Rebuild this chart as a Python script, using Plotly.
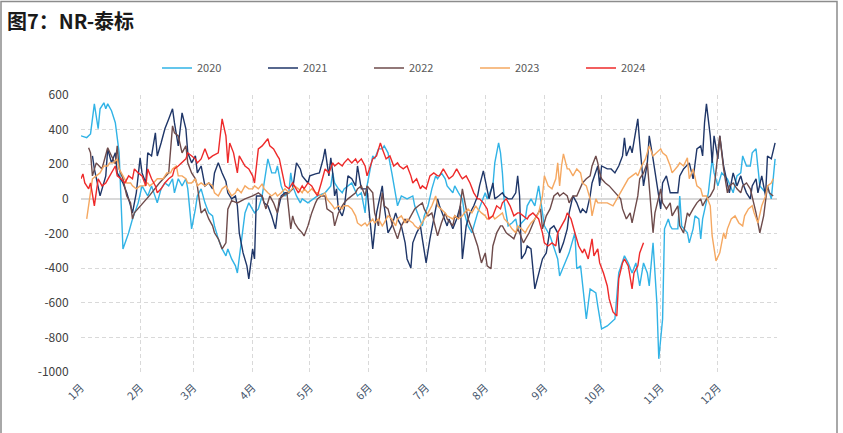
import pandas as pd
import plotly.graph_objects as go

# ---------------- data (day-of-year offset from Jan 1, value) ----------------
month_ticks = ["1月", "2月", "3月", "4月", "5月", "6月", "7月", "8月", "9月", "10月", "11月", "12月"]
month_starts = ["2023-01-01", "2023-02-01", "2023-03-01", "2023-04-01", "2023-05-01", "2023-06-01",
                "2023-07-01", "2023-08-01", "2023-09-01", "2023-10-01", "2023-11-01", "2023-12-01"]
y_ticks = [600, 400, 200, 0, -200, -400, -600, -800, -1000]

day_2020 = [0, 3, 5, 7, 9, 10, 12, 13, 14, 16, 18, 19, 20, 22, 25, 27, 30, 32, 35, 37, 39, 40, 42, 44, 46, 48, 49, 51, 53, 55,
            56, 58, 60, 61, 63, 65, 67, 69, 70, 72, 74, 76, 77, 79, 81, 82, 84, 86, 88, 91, 93, 95, 98, 100, 102, 103, 105, 107, 109, 110,
            111, 113, 115, 116, 119, 122, 124, 128, 131, 132, 133, 135, 137, 138, 142, 145, 147, 149, 150, 153, 154, 156, 158, 159, 161, 163, 165, 166, 168, 171,
            174, 175, 177, 179, 180, 182, 184, 186, 187, 189, 191, 192, 195, 196, 198, 200, 201, 203, 205, 207, 208, 210, 212, 213, 216, 217, 219, 220, 221, 222,
            224, 226, 228, 229, 231, 233, 234, 236, 238, 240, 243, 246, 249, 250, 251, 253, 255, 256, 259, 260, 262, 263, 265, 267, 270, 271, 273, 276, 280, 282,
            284, 285, 287, 289, 291, 292, 293, 295, 297, 298, 300, 302, 303, 305, 306, 308, 309, 310, 313, 314, 315, 318, 319, 321, 322, 324, 325, 326, 328, 329,
            331, 332, 334, 336, 339, 340, 342, 344, 346, 347, 349, 351, 352, 354, 356, 359, 360, 362, 364]
val_2020 = [364, 354, 375, 549, 405, 520, 555, 520, 549, 509, 440, 364, 266, -289, -196, -116, -23, 75, 17, 75, 0, -23, 58, 92, 75, 116, 35, 116, 75, 116,
            58, -173, -58, 17, 58, -23, -81, -98, -156, -231, -289, -329, -289, -347, -387, -428, -254, -81, -23, -81, -58, 17, 231, 150, 150, 190, 75, 17, 35, 150,
            75, 17, -23, 0, -23, 0, 17, 35, 75, 150, 92, 58, 35, 58, 92, 17, 35, -81, 75, 248, 231, 289, 289, 306, 266, 150, 35, -40, 17, 0,
            17, -40, -98, -156, -98, -40, 58, 133, 116, 150, 116, 75, 35, 75, 35, 0, -81, -156, -196, -116, -81, -23, 35, 0, 75, 208, 323, 266, 150, -23,
            -156, -139, -116, -173, -139, -116, -40, 0, -40, 75, -156, -214, -312, -347, -445, -387, -329, -312, -196, -404, -387, -503, -694, -520, -543, -618, -751, -734, -694, -428,
            -370, -329, -370, -428, -370, -428, -503, -370, -428, -503, -254, -601, -924, -694, -173, -116, -156, -173, -173, 17, -156, -196, -254, -173, -98, -116, -231, -116, 0, 35,
            231, 150, 75, 150, 116, 92, 35, 133, 150, 248, 190, 190, 266, 289, 75, 35, 75, 0, 231]

day_2021 = [6, 7, 10, 13, 14, 16, 18, 19, 22, 24, 26, 27, 29, 31, 32, 34, 35, 37, 39, 40, 42, 44, 46, 48, 49, 50, 51, 53, 55, 56,
            58, 60, 61, 63, 65, 67, 69, 70, 72, 74, 76, 77, 79, 81, 82, 83, 85, 87, 88, 90, 91, 92, 93, 95, 96, 98, 100, 102, 103, 105,
            107, 109, 111, 112, 113, 115, 116, 119, 120, 123, 125, 127, 128, 129, 130, 131, 132, 133, 134, 135, 137, 138, 140, 142, 144, 145, 147, 150, 152, 153,
            155, 157, 158, 159, 161, 163, 165, 166, 168, 170, 171, 173, 174, 176, 178, 179, 181, 183, 185, 187, 188, 190, 192, 193, 195, 197, 199, 200, 202, 204,
            206, 208, 209, 211, 213, 214, 216, 217, 219, 221, 222, 224, 226, 228, 229, 230, 231, 233, 234, 236, 238, 240, 242, 244, 246, 248, 250, 251, 253, 255,
            256, 258, 260, 262, 263, 265, 267, 268, 271, 272, 273, 276, 278, 280, 282, 284, 285, 286, 288, 289, 292, 293, 295, 297, 298, 300, 302, 304, 305, 307,
            309, 313, 314, 316, 319, 321, 323, 325, 326, 327, 328, 330, 331, 332, 334, 335, 337, 339, 340, 342, 344, 346, 347, 349, 351, 352, 354, 355, 357, 359,
            360, 362, 364]
val_2021 = [248, 173, 17, 133, 289, 208, 266, 150, 92, 35, -40, -81, 35, 237, 150, 92, 266, 248, 381, 248, 323, 405, 462, 520, 440, 364, 306, 497, 405, 266,
            208, 248, 150, 190, 75, 92, 58, 150, 208, 150, 100, 35, 0, 17, -40, -196, -312, -387, -462, -289, -347, 17, 17, 17, -23, -40, -98, -173, -81, 17,
            35, 35, 58, 133, 208, 173, 133, 92, 133, 144, 150, 231, 289, 208, 133, 237, 150, 17, 58, -58, -98, -58, 133, 116, 75, 190, 58, 58, -156, -289,
            -81, 17, 75, -40, -196, -156, -81, -116, -156, -254, -347, -399, -254, -196, -156, -231, -370, -231, -116, 0, -40, -98, -156, -116, -173, -116, -40, -347, -156, -81,
            -40, 17, 75, 162, 58, 0, 92, 0, 17, 35, 17, 0, 0, 35, 133, 17, -347, -312, -272, -289, -520, -428, -347, -312, -173, -156, -196, -312, -254, -173,
            -81, 17, -23, -81, -58, -81, 17, 92, 190, 75, 190, 173, 173, 150, 190, 248, 352, 248, 306, 266, 462, 323, 75, 208, 364, 231, 75, -58, 92, 133,
            35, 35, 133, 173, 208, 116, 289, 306, 248, 440, 549, 364, 208, 364, 231, 364, 190, 75, 35, 150, 75, 133, 92, 35, 0, 75, 116, 35, 133, 17,
            248, 231, 323]

day_2022 = [4, 5, 6, 8, 11, 13, 14, 16, 18, 19, 20, 22, 24, 26, 27, 28, 36, 41, 46, 48, 49, 51, 53, 55, 56, 58, 60, 61, 63, 65,
            67, 69, 70, 72, 74, 76, 77, 79, 82, 86, 90, 93, 95, 96, 97, 99, 101, 103, 104, 106, 108, 110, 111, 112, 114, 116, 117, 119, 121, 123,
            124, 126, 128, 129, 132, 133, 135, 137, 138, 140, 142, 144, 145, 147, 149, 150, 153, 154, 156, 158, 159, 161, 163, 165, 166, 168, 170, 171, 174, 175,
            177, 179, 180, 182, 184, 186, 187, 189, 191, 192, 195, 196, 198, 200, 201, 203, 205, 207, 208, 210, 212, 213, 215, 216, 218, 220, 221, 223, 225, 227,
            229, 230, 232, 234, 235, 238, 241, 242, 244, 246, 248, 250, 251, 253, 255, 256, 258, 260, 262, 263, 265, 267, 268, 270, 271, 272, 273, 275, 277, 280,
            283, 284, 286, 288, 289, 292, 293, 295, 297, 300, 301, 304, 305, 307, 309, 310, 313, 314, 316, 318, 319, 321, 323, 325, 326, 328, 330, 332, 334, 335,
            337, 339, 340, 342, 344, 346, 347, 349, 351, 352, 354, 356, 358, 360, 361, 363]
val_2022 = [295, 266, 133, 208, 173, 266, 295, 248, 202, 306, 173, 116, 17, -23, -116, -81, 20, 90, 150, 422, 381, 364, 266, 306, 208, 150, 116, 75, -81, -58,
            -116, -156, -196, -231, -289, -254, -60, -10, -23, 0, 17, 35, 17, -23, -58, 17, -23, -81, 0, 17, 35, -173, -98, -139, -173, -196, -214, -156, -81, -23,
            0, 17, 17, -58, -81, -156, -81, -40, -23, 0, 17, 35, 58, 75, 17, 75, 35, -81, -156, 35, -40, -58, -139, -196, -231, -156, -116, -139, -81, -58,
            -40, -23, -58, -98, -81, -173, -214, -139, -81, -116, -156, -98, -116, 58, 0, -116, -173, -231, -272, -370, -312, -387, -404, -272, -196, -156, -156, -196, -214, -231,
            -173, -196, -254, -214, -196, -116, -58, -173, -98, -58, 17, 35, 17, 35, 17, -23, 17, 17, 75, 92, 116, 133, 190, 248, 208, 150, 116, 92, 75, 35,
            0, -58, -116, -81, -139, 17, 116, 150, 208, -196, -81, 58, -23, -58, -23, -98, -40, -156, -196, -81, -98, -58, -23, 0, -40, 0, 17, 58, 289, 364,
            173, 35, 75, 92, 58, 35, 75, 92, 58, 17, -81, -196, -98, 75, 35, 17]

day_2023 = [3, 4, 5, 6, 8, 10, 12, 14, 15, 17, 19, 20, 22, 24, 26, 27, 29, 31, 33, 35, 36, 38, 40, 41, 43, 45, 47, 48, 50, 51,
            53, 55, 56, 58, 60, 61, 63, 65, 67, 69, 70, 72, 74, 76, 77, 79, 81, 82, 84, 86, 88, 90, 91, 93, 95, 96, 98, 100, 102, 103,
            105, 107, 109, 111, 112, 114, 116, 117, 119, 121, 123, 124, 126, 128, 129, 132, 133, 135, 137, 138, 140, 142, 144, 145, 147, 149, 150, 153, 154, 156,
            158, 159, 161, 163, 165, 166, 168, 170, 171, 174, 175, 177, 179, 180, 182, 184, 186, 187, 189, 191, 192, 195, 196, 198, 200, 201, 203, 205, 207, 208,
            210, 212, 213, 216, 217, 219, 221, 222, 224, 226, 228, 229, 231, 233, 234, 236, 238, 240, 242, 243, 245, 247, 249, 250, 251, 252, 253, 255, 256, 258,
            260, 262, 263, 265, 267, 268, 270, 271, 274, 276, 279, 282, 284, 285, 287, 289, 291, 292, 294, 296, 297, 298, 300, 302, 304, 305, 307, 309, 310, 313,
            314, 316, 318, 319, 321, 323, 325, 326, 328, 330, 331, 333, 335, 337, 338, 339, 341, 343, 345, 347, 348, 350, 352, 353, 355, 357, 359, 360, 362, 363]
val_2023 = [-116, -40, 17, 116, 133, 150, 190, 190, 208, 208, 231, 173, 133, 92, 92, 75, 58, 75, 75, 92, 75, 92, 116, 116, 116, 150, 150, 173, 190, 133,
            133, 116, 92, 92, 116, 75, 92, 75, 92, 75, 35, 17, 58, 75, 58, 17, 35, 58, 35, 75, 58, 58, 75, 58, 87, 58, 35, 17, 35, 17,
            35, 58, 35, 58, 75, 58, 35, 58, 35, 58, 35, 35, 17, 35, 0, -40, -58, -40, -58, -40, -40, -58, -98, -139, -156, -139, -156, -116, -139, -116,
            -156, -139, -98, -116, -156, -116, -98, -139, -116, -139, -156, -173, -139, -116, -81, -40, 17, -40, -58, -81, -98, -116, -98, -116, -98, -81, -58, -81, -40, -58,
            -81, -98, -116, -98, -116, -98, -81, -116, -139, -173, -196, -156, -173, -196, -173, -139, -116, -81, 17, 133, 75, 58, 116, 208, 75, 190, 260, 173, 173, 133,
            173, 150, 92, 75, 0, -98, 0, -23, -23, -23, -40, 17, 58, 75, 116, 133, 150, 133, 190, 231, 266, 306, 248, 266, 289, 266, 248, 190, 150, 190,
            208, 190, 237, 116, 173, 75, 58, 17, 17, -40, -214, -358, -312, -196, -231, -173, -116, -98, -139, -156, -98, -58, -40, -81, -139, -40, 17, 75, 92, 116]

day_2024 = [0, 1, 2, 4, 5, 7, 9, 11, 13, 16, 18, 19, 21, 23, 25, 27, 28, 30, 32, 34, 35, 37, 39, 40, 42, 44, 46, 48, 49, 51,
            53, 55, 56, 58, 60, 61, 63, 65, 67, 69, 72, 74, 76, 77, 78, 80, 82, 83, 84, 86, 88, 90, 91, 93, 95, 98, 99, 101, 103, 104,
            107, 109, 111, 114, 116, 117, 119, 121, 123, 124, 126, 128, 130, 132, 133, 135, 137, 138, 140, 142, 144, 145, 147, 149, 150, 153, 155, 157, 158, 160,
            162, 164, 166, 167, 169, 171, 173, 174, 176, 178, 179, 181, 183, 185, 187, 188, 190, 192, 193, 195, 197, 199, 200, 202, 204, 206, 208, 209, 211, 213,
            214, 216, 218, 220, 221, 223, 225, 227, 229, 230, 232, 234, 235, 237, 240, 242, 243, 245, 247, 249, 250, 252, 254, 255, 257, 259, 261, 263, 264, 266,
            268, 269, 271, 272, 274, 276, 277, 279, 281, 282, 284, 285, 287, 289, 290, 292, 293, 295]
val_2024 = [116, 144, 92, 58, 92, -40, 116, 75, 92, 150, 190, 133, 116, 92, 133, 116, 173, 150, 133, 75, 173, 116, 75, 35, 58, 92, 116, 133, 173, 190,
            208, 231, 266, 248, 231, 208, 231, 289, 231, 248, 266, 462, 364, 208, 323, 266, 150, 248, 231, 190, 173, 133, 92, 289, 306, 347, 306, 289, 248, 231,
            75, 58, 92, 35, 75, 58, 92, 75, 35, 17, 92, 173, 150, 208, 190, 208, 190, 208, 231, 208, 231, 208, 231, 190, 133, 231, 248, 323, 289, 231,
            248, 190, 208, 190, 173, 190, 133, 92, 116, 58, 75, 58, 133, 150, 133, 133, 173, 133, 116, 133, 173, 133, 116, 133, 92, 35, 0, 0, -23, -58,
            -116, -98, -40, -58, -23, 0, -40, -98, -81, -81, -98, -116, -98, -81, -116, -196, -254, -272, -254, -272, -196, -156, -116, -81, -116, -196, -272, -312, -289, -347,
            -231, -329, -289, -370, -428, -503, -578, -653, -676, -462, -370, -347, -387, -520, -428, -387, -312, -254]

series = [
    ("2020", day_2020, val_2020, "#31B3E6"),
    ("2021", day_2021, val_2021, "#1F3668"),
    ("2022", day_2022, val_2022, "#6E4B4B"),
    ("2023", day_2023, val_2023, "#F5A861"),
    ("2024", day_2024, val_2024, "#EE2A2A"),
]

base = pd.Timestamp("2023-01-01")
W, H = 843, 433
L, R, T, B = 81, 66, 95, 61
PW, PH = W - L - R, H - T - B


def px_x(p):
    return (p - L) / PW


def px_y(p):
    return (H - B - p) / PH


fig = go.Figure()
for name, days, vals, color in series:
    assert len(days) == len(vals), name
    xs = base + pd.to_timedelta(days, unit="D")
    fig.add_trace(go.Scatter(x=xs, y=vals, mode="lines", name=name,
                             line=dict(color=color, width=1.4)))

fig.update_layout(
    width=W, height=H,
    margin=dict(l=L, r=R, t=T, b=B),
    paper_bgcolor="white", plot_bgcolor="white",
    font=dict(family="Noto Sans CJK SC, Noto Sans, sans-serif", color="#404040"),
    showlegend=True,
    legend=dict(orientation="h", x=px_x(157), y=px_y(68), xanchor="left", yanchor="middle",
                font=dict(size=11, color="#595959"), entrywidth=61, entrywidthmode="pixels",
                itemwidth=30, bgcolor="rgba(0,0,0,0)", traceorder="normal"),
    xaxis=dict(type="date", range=["2023-01-01", "2024-01-01"],
               tickmode="array", tickvals=month_starts, ticktext=month_ticks,
               tickangle=-45, tickfont=dict(size=11, color="#44546A"),
               showgrid=True, gridcolor="#D9D9D9", griddash="4px,3px", gridwidth=1,
               zeroline=False, showline=False, ticks="outside", ticklen=4,
               tickcolor="rgba(0,0,0,0)"),
    yaxis=dict(range=[-1000, 600], tickmode="array", tickvals=y_ticks,
               ticktext=[str(v) for v in y_ticks],
               tickfont=dict(size=12, color="#404040"),
               showgrid=True, gridcolor="#D9D9D9", griddash="4px,3px", gridwidth=1,
               zeroline=True, zerolinecolor="#D9D9D9", zerolinewidth=1.5,
               showline=False, ticks="outside", ticklen=9, tickcolor="rgba(0,0,0,0)"),
)

fig.add_annotation(text="<b>图7：NR-泰标</b>", xref="paper", yref="paper",
                   x=px_x(5), y=px_y(4), xanchor="left", yanchor="top", showarrow=False,
                   font=dict(size=20, color="#1A1A1A", family="Noto Sans CJK SC"))

fig.add_shape(type="rect", xref="paper", yref="paper",
              x0=px_x(1), x1=px_x(837), y0=px_y(445), y1=px_y(1.5),
              line=dict(color="#8C8C8C", width=1.5), fillcolor="rgba(0,0,0,0)", layer="above")

fig.write_html("out.html", config={"displayModeBar": False},
               post_script="document.body.style.margin='0px';document.body.style.padding='0px';")
